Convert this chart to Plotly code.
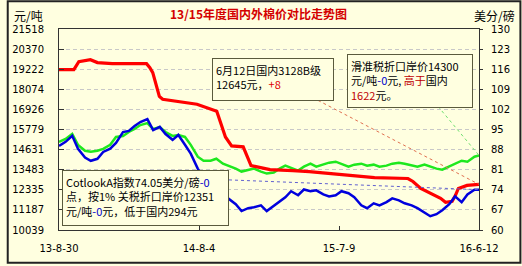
import plotly.graph_objects as go

# ---------------- data ----------------
red_dates = ["2013-08-30", "2013-10-05", "2013-10-17", "2013-11-14", "2013-12-01", "2014-01-06",
             "2014-03-30", "2014-04-07", "2014-04-14", "2014-04-23", "2014-04-30", "2014-05-08",
             "2014-06-12", "2014-07-30", "2014-09-16", "2014-09-25", "2014-10-07", "2014-10-22",
             "2014-11-19", "2014-12-01", "2014-12-08", "2014-12-20", "2015-01-23", "2015-03-19",
             "2015-04-28", "2015-07-16", "2015-10-03", "2015-12-23", "2016-01-04", "2016-01-23",
             "2016-02-16", "2016-03-11", "2016-03-23", "2016-04-08", "2016-04-16", "2016-04-23",
             "2016-05-14", "2016-06-12"]
red_vals = [19200, 19200, 19650, 19765, 19600, 19539,
            19539, 19313, 19030, 18351, 17673, 17503,
            17390, 17220, 16824, 16202, 15354, 14845,
            14789, 14110, 13714, 13658, 13488, 13431,
            13375, 13205, 13035, 12979, 12809, 12413,
            12130, 11848, 11622, 11678, 12017, 12413,
            12583, 12645]

grid_dates = ["2013-08-30", "2013-09-15", "2013-10-01", "2013-10-15", "2013-11-01", "2013-11-15",
              "2013-12-01", "2013-12-15", "2014-01-01", "2014-01-15", "2014-02-01", "2014-02-15",
              "2014-03-01", "2014-03-15", "2014-04-01", "2014-04-15", "2014-05-01", "2014-05-15",
              "2014-06-01", "2014-06-15", "2014-07-01", "2014-07-15", "2014-08-01", "2014-08-15",
              "2014-09-01", "2014-09-15", "2014-10-01", "2014-10-15", "2014-11-01", "2014-11-15",
              "2014-12-01", "2014-12-15", "2015-01-01", "2015-01-15", "2015-02-01", "2015-02-15",
              "2015-03-01", "2015-03-15", "2015-04-01", "2015-04-15", "2015-05-01", "2015-05-15",
              "2015-06-01", "2015-06-15", "2015-07-01", "2015-07-15", "2015-08-01", "2015-08-15",
              "2015-09-01", "2015-09-15", "2015-10-01", "2015-10-15", "2015-11-01", "2015-11-15",
              "2015-12-01", "2015-12-15", "2016-01-01", "2016-01-15", "2016-02-01", "2016-02-15",
              "2016-03-01", "2016-03-15", "2016-04-01", "2016-04-15", "2016-05-01", "2016-05-15",
              "2016-06-01", "2016-06-12"]
green_vals = [15071, 15241, 15524, 14902, 14562, 14506, 14562, 14676, 14902, 15354, 15411, 15637,
              15806, 16033, 16146, 15806, 15920, 15637, 15411, 15467, 15354, 14902, 14223, 13997,
              13997, 14110, 13827, 13714, 13544, 13375, 13488, 13544, 13375, 13262, 13318, 13544,
              13714, 13601, 13431, 13658, 13827, 13658, 13771, 13884, 13941, 13827, 13658, 13771,
              13827, 13714, 13771, 13658, 13714, 13827, 13884, 13827, 13714, 13658, 13771, 13658,
              13544, 13488, 13658, 13827, 13997, 13941, 14223, 14300]
blue_vals = [89.3, 90.7, 92.8, 88.3, 85.2, 84.1, 84.8, 87.2, 88.3, 90.3, 94.1, 94.5,
             96.2, 97.6, 98.6, 94.8, 95.9, 93.4, 91.4, 93.1, 89.7, 86.6, 81.4, 77.9,
             75.2, 73.5, 72.4, 71.0, 69.0, 66.6, 67.6, 67.9, 68.6, 66.6, 68.3, 70.0,
             71.4, 73.5, 72.1, 74.1, 73.5, 73.8, 72.4, 71.7, 72.1, 73.5, 72.8, 71.4,
             68.6, 67.6, 69.3, 68.6, 69.7, 71.0, 70.3, 69.3, 68.6, 67.6, 65.9, 64.8,
             65.5, 66.9, 69.0, 71.7, 69.7, 72.4, 74.05, 74.05]

left_ticks = [10039, 11187, 12335, 13483, 14631, 15779, 16926, 18074, 19222, 20370, 21518]
right_ticks = [60, 67, 74, 81, 88, 95, 102, 109, 116, 123, 130]
x_ticks = ["2013-08-30", "2014-08-04", "2015-07-09", "2016-06-12"]
x_labels = ["13-8-30", "14-8-4", "15-7-9", "16-6-12"]

# ---------------- layout helpers ----------------
W, H = 522, 266
L, R, T, B = 53, 43, 29, 34
PW, PH = W - L - R, H - T - B


def px(x):
    return (x - L) / PW


def py(y):
    return (H - B - y) / PH


BG = "#FFFFE0"
AX = "#333333"
CJK = "Noto Sans CJK SC"
NUM = "DejaVu Sans"

fig = go.Figure()
fig.add_trace(go.Scatter(x=grid_dates, y=green_vals, mode="lines",
                         line=dict(color="#1ee81e", width=2.5), yaxis="y"))
fig.add_trace(go.Scatter(x=red_dates, y=red_vals, mode="lines",
                         line=dict(color="#ff0000", width=3.2), yaxis="y"))
fig.add_trace(go.Scatter(x=grid_dates, y=blue_vals, mode="lines",
                         line=dict(color="#0000dd", width=2.5), yaxis="y2"))

box_font = dict(family=CJK, size=11, color="black")
annotations = [
    dict(text="元/吨", xref="paper", yref="paper", x=px(5), y=py(15), xanchor="left",
         yanchor="middle", showarrow=False, font=dict(family=CJK, size=12, color="black")),
    dict(text="美分/磅", xref="paper", yref="paper", x=px(518), y=py(15), xanchor="right",
         yanchor="middle", showarrow=False, font=dict(family=CJK, size=12, color="black")),
    dict(text="6月12日国内3128B级<br>12645元，<span style='color:#e00000'>+8</span>",
         xref="paper", yref="paper", x=px(208), y=py(58), xanchor="left", yanchor="top",
         showarrow=False, align="left", valign="top", width=114, height=35,
         bgcolor=BG, bordercolor="#5a5a3c", borderwidth=1, borderpad=3, font=box_font),
    dict(text="滑准税折口岸价14300<br>元/吨<span style='color:#0000cc'>-0</span>元, "
              "<span style='color:#c00000'>高于</span>国内<br>"
              "<span style='color:#c00000'>1622</span>元。",
         xref="paper", yref="paper", x=px(345), y=py(54), xanchor="left", yanchor="top",
         showarrow=False, align="left", valign="top", width=118, height=46,
         bgcolor=BG, bordercolor="#5a5a3c", borderwidth=1, borderpad=3, font=box_font),
    dict(text="CotlookA指数74.05美分/磅<span style='color:#0000cc'>-0</span><br>"
              "点，按1% 关税折口岸价12351<br>"
              "元/吨<span style='color:#0000cc'>-0</span>元，低于国内294元",
         xref="paper", yref="paper", x=px(56), y=py(171), xanchor="left", yanchor="top",
         showarrow=False, align="left", valign="top", width=159, height=48,
         bgcolor=BG, bordercolor="#5a5a3c", borderwidth=1, borderpad=3, font=box_font),
]

shapes = [
    dict(type="line", xref="x", yref="y", xsizemode="pixel", ysizemode="pixel",
         xanchor=red_dates[-1], yanchor=red_vals[-1], x0=-161, y0=84, x1=0, y1=0,
         line=dict(color="#e07050", width=1, dash="dot")),
    dict(type="line", xref="x", yref="y", xsizemode="pixel", ysizemode="pixel",
         xanchor=grid_dates[-1], yanchor=green_vals[-1], x0=-41, y0=49, x1=0, y1=0,
         line=dict(color="#70e070", width=1, dash="dot")),
    dict(type="line", xref="x", yref="y2", xsizemode="pixel", ysizemode="pixel",
         xanchor=grid_dates[-1], yanchor=blue_vals[-1], x0=-256, y0=10, x1=0, y1=0,
         line=dict(color="#6060d0", width=1, dash="dot")),
    dict(type="rect", xref="paper", yref="paper", x0=px(1), x1=px(521), y0=py(265), y1=py(1),
         line=dict(color="#222222", width=2), layer="above"),
]

fig.update_layout(
    width=W, height=H, margin=dict(l=L, r=R, t=T, b=B),
    paper_bgcolor=BG, plot_bgcolor=BG, showlegend=False,
    title=dict(text="<b>13/15年度国内外棉价对比走势图</b>", x=258.5 / W, y=1 - 15 / H,
               xanchor="center", yanchor="middle", xref="container", yref="container",
               font=dict(family=CJK, size=12, color="#d40000")),
    xaxis=dict(type="date", range=[x_ticks[0], x_ticks[-1]], tickvals=x_ticks, ticktext=x_labels,
               ticks="inside", ticklen=4, tickcolor=AX, showline=True, linecolor=AX, linewidth=1,
               mirror=True, showgrid=False, zeroline=False, ticklabelstandoff=9,
               tickfont=dict(family=NUM, size=10, color="black")),
    yaxis=dict(range=[left_ticks[0], left_ticks[-1]], tickvals=left_ticks,
               ticktext=[str(v) for v in left_ticks],
               ticks="inside", ticklen=5, tickcolor=AX, showline=True, linecolor=AX, linewidth=1,
               showgrid=True, gridcolor="#c8c8c8", gridwidth=1, griddash="4px,3px",
               zeroline=False, ticklabelstandoff=12,
               tickfont=dict(family=NUM, size=10, color="black")),
    yaxis2=dict(range=[right_ticks[0], right_ticks[-1]], tickvals=right_ticks, overlaying="y",
                side="right", ticks="outside", ticklen=3, tickcolor=AX, showline=True,
                linecolor=AX, linewidth=1, showgrid=False, zeroline=False, ticklabelstandoff=6,
                tickfont=dict(family=NUM, size=10, color="black")),
    annotations=annotations, shapes=shapes,
)

fig.write_html("out.html")
